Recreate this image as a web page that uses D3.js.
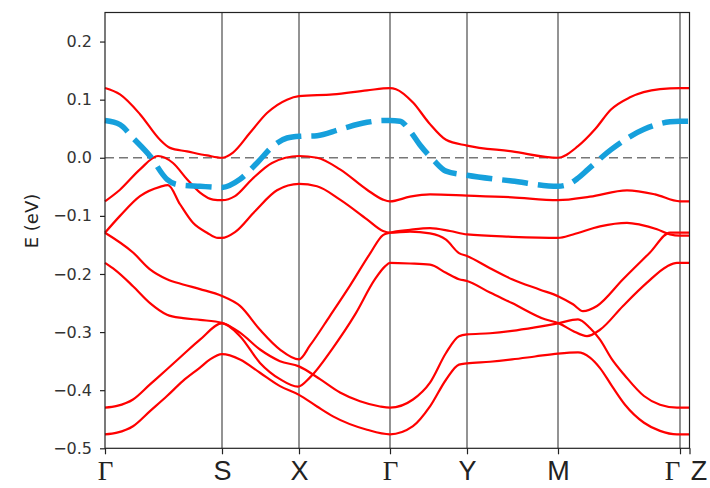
<!DOCTYPE html>
<html>
<head>
<meta charset="utf-8">
<script src="https://cdn.jsdelivr.net/npm/d3@7"></script>
<style>
  html, body { margin: 0; padding: 0; background: #fff; }
  svg { display: block; }
</style>
</head>
<body>
<svg id="chart" width="710" height="488"></svg>
<script>
// ---------- data ----------
const kLabels = ["Γ", "S", "X", "Γ", "Y", "M", "Γ", "Z"];
const kTicks  = [0, 1.17, 1.94, 2.85, 3.62, 4.53, 5.75, 5.845];
const yTicks  = [-0.5, -0.4, -0.3, -0.2, -0.1, 0.0, 0.1, 0.2];

const band1 = [[0,0.120],[0.15,0.109],[0.35,0.075],[0.55,0.031],[0.65,0.017],[0.82,0.011],[1.02,0.004],[1.17,0.000],
  [1.28,0.009],[1.45,0.043],[1.62,0.077],[1.82,0.100],[1.94,0.106],[2.28,0.109],[2.62,0.116],[2.85,0.120],
  [2.91,0.118],[3.08,0.095],[3.24,0.060],[3.41,0.031],[3.62,0.021],[4.07,0.011],[4.53,0.000],[4.73,0.020],
  [4.90,0.049],[5.06,0.083],[5.25,0.104],[5.55,0.118],[5.75,0.120],[5.845,0.120]];
const band2 = [[0,-0.075],[0.15,-0.055],[0.35,-0.020],[0.53,0.003],[0.68,-0.009],[0.82,-0.037],[0.95,-0.060],[1.08,-0.072],[1.17,-0.073],
  [1.30,-0.066],[1.47,-0.037],[1.67,-0.009],[1.94,0.003],[2.12,0.000],[2.35,-0.020],[2.62,-0.055],[2.78,-0.072],[2.85,-0.075],
  [3.05,-0.067],[3.25,-0.063],[3.62,-0.065],[4.07,-0.068],[4.53,-0.073],[4.85,-0.067],[5.22,-0.056],[5.50,-0.063],[5.75,-0.075],[5.845,-0.075]];
const band3 = [[0,-0.129],[0.15,-0.100],[0.35,-0.066],[0.55,-0.050],[0.63,-0.047],[0.75,-0.080],[0.88,-0.112],[1.02,-0.129],[1.13,-0.138],[1.17,-0.138],
  [1.30,-0.128],[1.50,-0.092],[1.72,-0.056],[1.94,-0.045],[2.12,-0.049],[2.35,-0.072],[2.62,-0.106],[2.78,-0.126],[2.85,-0.129],
  [3.05,-0.127],[3.25,-0.130],[3.41,-0.141],[3.54,-0.164],[3.62,-0.169],[3.85,-0.190],[4.07,-0.209],[4.35,-0.227],[4.54,-0.239],
  [4.68,-0.252],[4.78,-0.264],[4.92,-0.255],[5.18,-0.209],[5.45,-0.163],[5.65,-0.129],[5.75,-0.129],[5.845,-0.129]];
const band4 = [[0,-0.129],[0.28,-0.163],[0.45,-0.192],[0.62,-0.209],[0.78,-0.218],[0.95,-0.226],[1.17,-0.238],
  [1.35,-0.255],[1.55,-0.296],[1.75,-0.330],[1.94,-0.347],[2.05,-0.323],[2.25,-0.272],[2.45,-0.220],[2.65,-0.165],[2.78,-0.133],[2.85,-0.129],
  [3.05,-0.124],[3.25,-0.121],[3.45,-0.126],[3.62,-0.132],[4.07,-0.136],[4.53,-0.138],[4.68,-0.132],[4.95,-0.118],[5.22,-0.112],
  [5.35,-0.115],[5.52,-0.123],[5.65,-0.132],[5.75,-0.134],[5.845,-0.134]];
const band5 = [[0,-0.181],[0.10,-0.193],[0.28,-0.221],[0.45,-0.250],[0.62,-0.270],[0.78,-0.276],[0.95,-0.279],[1.17,-0.284],
  [1.35,-0.301],[1.55,-0.330],[1.75,-0.350],[1.94,-0.359],[2.15,-0.381],[2.35,-0.404],[2.55,-0.419],[2.75,-0.428],[2.85,-0.430],
  [3.08,-0.416],[3.25,-0.387],[3.41,-0.336],[3.54,-0.307],[3.62,-0.304],[3.85,-0.302],[4.07,-0.298],[4.30,-0.292],[4.53,-0.285],
  [4.73,-0.278],[4.85,-0.293],[4.95,-0.313],[5.07,-0.347],[5.20,-0.375],[5.39,-0.410],[5.55,-0.425],[5.72,-0.430],[5.845,-0.430]];
const band6 = [[0,-0.430],[0.12,-0.427],[0.28,-0.416],[0.45,-0.390],[0.62,-0.364],[0.78,-0.339],[0.95,-0.313],[1.17,-0.285],
  [1.35,-0.307],[1.55,-0.353],[1.75,-0.381],[1.93,-0.394],[2.05,-0.378],[2.28,-0.327],[2.50,-0.270],[2.70,-0.209],[2.80,-0.187],[2.85,-0.181],
  [3.05,-0.182],[3.25,-0.184],[3.41,-0.198],[3.54,-0.209],[3.62,-0.212],[3.85,-0.232],[4.07,-0.250],[4.40,-0.278],[4.54,-0.285],
  [4.68,-0.298],[4.82,-0.307],[4.95,-0.296],[5.18,-0.255],[5.42,-0.215],[5.62,-0.187],[5.72,-0.181],[5.845,-0.181]];
const band7 = [[0,-0.476],[0.12,-0.473],[0.28,-0.462],[0.45,-0.436],[0.62,-0.410],[0.78,-0.384],[0.95,-0.361],[1.05,-0.347],[1.17,-0.338],
  [1.35,-0.347],[1.55,-0.370],[1.75,-0.393],[1.94,-0.408],[2.12,-0.428],[2.28,-0.445],[2.62,-0.468],[2.85,-0.476],
  [3.08,-0.462],[3.25,-0.428],[3.41,-0.382],[3.54,-0.356],[3.62,-0.354],[3.85,-0.351],[4.07,-0.347],[4.30,-0.342],[4.53,-0.337],
  [4.73,-0.335],[4.85,-0.344],[4.95,-0.362],[5.07,-0.393],[5.20,-0.425],[5.39,-0.456],[5.55,-0.470],[5.72,-0.476],[5.845,-0.476]];
const blueBand = [[0,0.064],[0.15,0.057],[0.28,0.034],[0.45,0.003],[0.62,-0.037],[0.72,-0.046],[0.95,-0.049],[1.17,-0.051],
  [1.35,-0.037],[1.52,-0.009],[1.68,0.020],[1.82,0.034],[1.95,0.037],[2.12,0.038],[2.35,0.049],[2.62,0.061],[2.78,0.064],[2.85,0.064],
  [2.95,0.063],[3.05,0.046],[3.15,0.022],[3.28,-0.003],[3.41,-0.023],[3.62,-0.030],[4.07,-0.040],[4.53,-0.049],[4.63,-0.046],
  [4.73,-0.035],[4.83,-0.020],[5.06,0.014],[5.39,0.049],[5.65,0.062],[5.75,0.063],[5.845,0.063]];
const redBands = [band1, band2, band3, band4, band5, band6, band7];

// ---------- drawing ----------
const svg = d3.select("#chart");
const x = d3.scaleLinear().domain([0, 5.845]).range([105, 689.5]);
const y = d3.scaleLinear().domain([-0.5, 0.25]).range([448.3, 12.5]);

const plot = svg.append("g");

// vertical lines at high-symmetry points
plot.selectAll("line.kline").data(kTicks.slice(1, -1)).join("line")
  .attr("class", "kline")
  .attr("x1", d => x(d)).attr("x2", d => x(d))
  .attr("y1", y(-0.5)).attr("y2", y(0.25))
  .attr("stroke", "#555").attr("stroke-opacity", 0.85).attr("stroke-width", 1.5);

// zero line
plot.append("line")
  .attr("x1", x(0)).attr("x2", x(5.845))
  .attr("y1", y(0)).attr("y2", y(0))
  .attr("stroke", "#777").attr("stroke-width", 1.5)
  .attr("stroke-dasharray", "9,5");

const line = d3.line().x(d => x(d[0])).y(d => y(d[1])).curve(d3.curveMonotoneX);

plot.selectAll("path.red").data(redBands).join("path")
  .attr("class", "red")
  .attr("d", line)
  .attr("fill", "none").attr("stroke", "#ff0000").attr("stroke-width", 2.2);

plot.append("path")
  .attr("d", line(blueBand))
  .attr("fill", "none").attr("stroke", "#16a0dc").attr("stroke-width", 5.5)
  .attr("stroke-dasharray", "26,10");

// frame
svg.append("rect")
  .attr("x", x(0)).attr("y", y(0.25))
  .attr("width", x(5.845) - x(0)).attr("height", y(-0.5) - y(0.25))
  .attr("fill", "none").attr("stroke", "#222").attr("stroke-width", 1.2);

// y axis
const yAxis = d3.axisLeft(y).tickValues(yTicks).tickFormat(d3.format(".1f")).tickSize(5).tickPadding(8);
const gy = svg.append("g").attr("transform", `translate(${x(0)},0)`).call(yAxis);
gy.select(".domain").remove();
gy.selectAll(".tick line").attr("stroke", "#222").attr("stroke-width", 1.2);
gy.selectAll(".tick text").attr("font-family", "DejaVu Sans").attr("font-size", 16).attr("fill", "#333");

// x axis
const xAxis = d3.axisBottom(x).tickValues(kTicks).tickFormat((d, i) => kLabels[i]).tickSize(6).tickPadding(7);
const gx = svg.append("g").attr("transform", `translate(0,${y(-0.5)})`).call(xAxis);
gx.select(".domain").remove();
gx.selectAll(".tick line").attr("stroke", "#222").attr("stroke-width", 1.2);
gx.selectAll(".tick text")
  .attr("font-family", (d, i) => kLabels[i] === "Γ" ? "Liberation Serif" : "Liberation Sans")
  .attr("font-size", 27)
  .attr("fill", "#222")
  .attr("dx", (d, i) => i === 6 ? -8 : (i === 7 ? 9 : 0));

// y label
svg.append("text")
  .attr("transform", `translate(38,221) rotate(-90)`)
  .attr("text-anchor", "middle")
  .attr("font-family", "DejaVu Sans").attr("font-size", 18).attr("fill", "#222")
  .text("E (eV)");
</script>
</body>
</html>
